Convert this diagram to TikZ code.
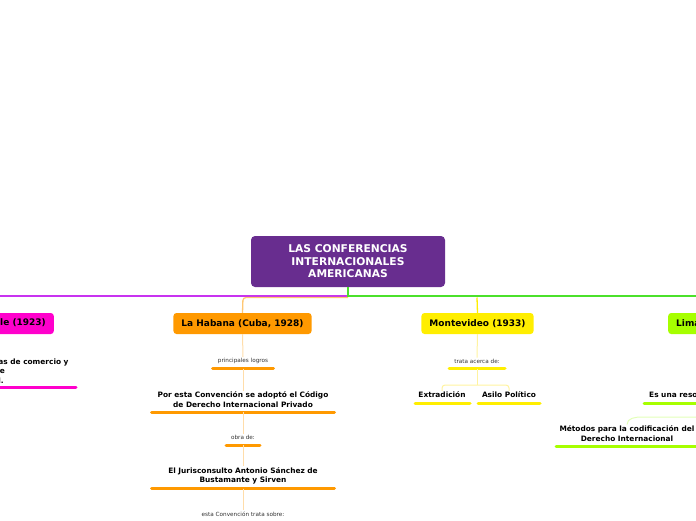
\documentclass[tikz,border=0pt]{standalone}
\usepackage{fontspec}
\setmainfont{DejaVu Sans}
\definecolor{cpurple}{HTML}{682D8F}
\definecolor{cmag}{HTML}{FF00CC}
\definecolor{cmagline}{HTML}{C833F0}
\definecolor{corange}{HTML}{FF9900}
\definecolor{corangel}{HTML}{FFDDAA}
\definecolor{cyellow}{HTML}{FFEE00}
\definecolor{cyellowl}{HTML}{FFF3A0}
\definecolor{clime}{HTML}{A6FF00}
\definecolor{climel}{HTML}{E2FFB8}
\definecolor{cgreen}{HTML}{4BE12B}
\tikzset{
  mainbox/.style={fill=cpurple, rounded corners=4pt, text=white, align=center, inner sep=0pt,
    font=\fontsize{10.7}{12.5}\selectfont\bfseries},
  topicbox/.style={rounded corners=3pt, inner ysep=0pt, inner xsep=8pt, minimum height=21pt,
    font=\fontsize{9}{10}\selectfont\bfseries},
  subtxt/.style={align=center, inner sep=1pt, font=\fontsize{7.4}{9.5}\selectfont\bfseries},
  smalltxt/.style={align=center, inner sep=1pt, text=black!80, font=\fontsize{5.7}{6.5}\selectfont},
  uline/.style={line width=3pt, line cap=round},
  conn/.style={line width=1pt}
}
\begin{document}
\begin{tikzpicture}[x=1pt,y=-1pt]
\useasboundingbox (0,0) rectangle (696,520);
\clip (0,0) rectangle (696,520);
% central node
\node[mainbox, minimum width=194pt, minimum height=51pt] (c) at (348,261.5)
  {LAS CONFERENCIAS\\INTERNACIONALES\\AMERICANAS};
% topic nodes
\node[topicbox, fill=cmag, anchor=east] (chile) at (54,323.5) {Santiago de Chile (1923)};
\node[topicbox, fill=corange, minimum width=137pt] (hab) at (242.5,323.5) {La Habana (Cuba, 1928)};
\node[topicbox, fill=cyellow, minimum width=111pt] (mont) at (477.5,323.5) {Montevideo (1933)};
\node[topicbox, fill=clime, anchor=west] (lima) at (668,323.5) {Lima (1938)};
% free ends
\coordinate (lend) at (-2,296);
\coordinate (rend) at (700,296);
\coordinate (j) at (348,296);
% main connectors
\draw[cmagline, line width=2pt] (j) -- (lend);
\draw[cgreen, line width=2pt] (c.south) -- (j) -- (rend);
\draw[corange, line width=1.3pt, opacity=0.55, rounded corners=3pt] (348,297.5) -- (243,297.5) -- (hab.north);
\draw[cyellow, line width=1.3pt, rounded corners=3pt] (477,297.5) -- (hab.north -| mont.north);
% ---- Chile branch
\node[subtxt] (ch1) at (-20,371) {Convenciones sobre marcas de comercio y\\de fábrica e\\intelectual.};
\draw[cmag, uline] (-118,387) -- (76,387);
% ---- Habana branch
\node[smalltxt] (h1) at (243,361) {principales logros};
\draw[corange, uline] (212.5,368.5) -- (273.5,368.5);
\coordinate (hu1) at (243,368.5);
\node[subtxt] (h2) at (243,399.5) {Por esta Convención se adoptó el Código\\de Derecho Internacional Privado};
\draw[corange, uline] (151.5,412) -- (334.5,412);
\coordinate (hu2) at (243,412);
\node[smalltxt] (h3) at (243,437) {obra de:};
\draw[corange, uline] (226,445) -- (260,445);
\coordinate (hu3) at (243,445);
\node[subtxt] (h4) at (243,476) {El Jurisconsulto Antonio Sánchez de\\Bustamante y Sirven};
\draw[corange, uline] (151.5,488.5) -- (334.5,488.5);
\coordinate (hu4) at (243,488.5);
\node[smalltxt] (h5) at (243,514) {esta Convención trata sobre:};
\draw[corangel, conn] (hab.south) -- (h1.north);
\draw[corangel, conn] (hu1) -- (h2.north);
\draw[corangel, conn] (hu2) -- (h3.north);
\draw[corangel, conn] (hu3) -- (h4.north);
\draw[corangel, conn] (hu4) -- (h5.north);
% ---- Montevideo branch
\node[smalltxt] (m1) at (477,361) {trata acerca de:};
\draw[cyellow, uline] (449,368.5) -- (505,368.5);
\coordinate (mu1) at (477,368.5);
\node[subtxt] (m2) at (442,395) {Extradición};
\draw[cyellow, uline] (415,403) -- (470,403);
\node[subtxt] (m3) at (509,395) {Asilo Político};
\draw[cyellow, uline] (478,403) -- (540,403);
\draw[cyellowl, conn] (mont.south) -- (m1.north);
\draw[cyellowl, conn, rounded corners=3pt] (m2.north) -- (442,385) -- (509,385) -- (m3.north);
\draw[cyellowl, conn] (mu1) -- (477,385);
% ---- Lima branch
\node[subtxt, anchor=west] (l1) at (648,395) {Es una resolución};
\draw[clime, uline] (644,403) -- (730,403);
\node[subtxt] (l2) at (627,433.5) {Métodos para la codificación del\\Derecho Internacional};
\draw[clime, uline] (556,446) -- (699,446);
\coordinate (lp) at (700,417);
\draw[climel, conn] (l2.north) to[out=90,in=180] (642,417) -- (lp);
\end{tikzpicture}
\end{document}
